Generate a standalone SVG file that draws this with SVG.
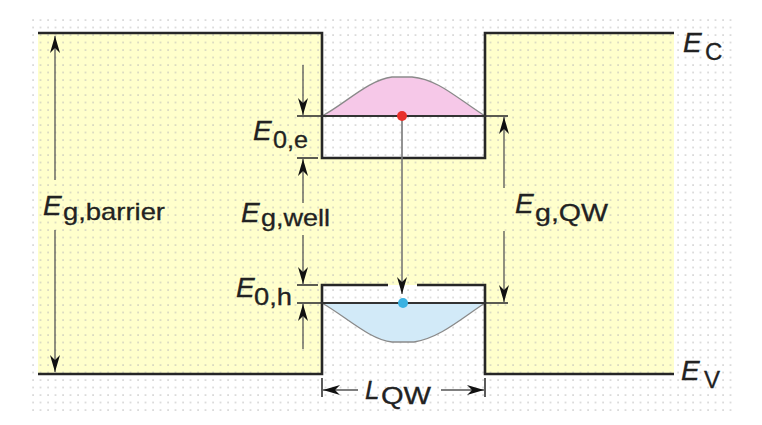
<svg xmlns="http://www.w3.org/2000/svg" width="762" height="425" viewBox="0 0 762 425">
  <style>
    .band { fill: none; stroke: #262626; stroke-width: 2.6; stroke-linejoin: miter; }
    .lvl { fill: none; stroke: #333; stroke-width: 2; }
    .tick { fill: none; stroke: #333; stroke-width: 1.6; }
    .arr { fill: none; stroke: #555; stroke-width: 1.3; marker-end: url(#ah); }
    .tr { fill: none; stroke: #777; stroke-width: 1.6; marker-end: url(#ah); }
    .E { font-family: "Liberation Sans", Arial, sans-serif; font-style: italic; font-size: 28px; fill: #222; stroke: #222; stroke-width: 0.3; }
    .sub { font-family: "Liberation Sans", Arial, sans-serif; font-size: 24px; fill: #222; stroke: #222; stroke-width: 0.3; }
  </style>
  <defs>
    <pattern id="dots" x="32" y="19" width="7.5" height="7.5" patternUnits="userSpaceOnUse">
      <rect x="0.4" y="0.4" width="1.3" height="1.3" fill="#b9b9b9"/>
    </pattern>
    <marker id="ah" viewBox="-18 -6 19 12" refX="0" refY="0" markerWidth="19" markerHeight="12" markerUnits="userSpaceOnUse" orient="auto">
      <path d="M0,0 L-17,-5 L-12,0 L-17,5 Z" fill="#111"/>
    </marker>
  </defs>

  <rect width="762" height="425" fill="#ffffff"/>

  <g id="barriers">
    <polygon points="38,33 322,33 322,158 485,158 485,33 674,33 674,374 485,374 485,285 322,285 322,374 38,374" fill="#ffffcc"/>
  </g>

  <g id="grid">
    <rect x="32" y="19" width="703" height="394" fill="url(#dots)"/>
  </g>

  <g id="wavefunctions">
    <path id="electron-wave" d="M322,116 C345,104 368,80 392,77 L412,77 C438,79 458,99 485,116 Z" fill="#f6c8e8" stroke="#8a8a8a" stroke-width="1.3"/>
    <path id="hole-wave" d="M322,303 C345,316 370,340 392,342 L414,342 C440,338 462,318 485,303 Z" fill="#d2eaf8" stroke="#8a8a8a" stroke-width="1.3"/>
  </g>

  <g id="bands">
    <polyline id="conduction-band" class="band" points="38,33 322,33 322,158 485,158 485,33 674,33"/>
    <polyline id="valence-band-left" class="band" points="38,374 322,374 322,285 388,285"/>
    <polyline id="valence-band-right" class="band" points="417,285 485,285 485,374 674,374"/>
  </g>

  <g id="levels">
    <line class="lvl" x1="322" y1="116" x2="485" y2="116"/>
    <line class="lvl" x1="322" y1="303" x2="485" y2="303"/>
    <line class="tick" x1="297" y1="116" x2="322" y2="116"/>
    <line class="tick" x1="297" y1="158" x2="318" y2="158"/>
    <line class="tick" x1="297" y1="285" x2="318" y2="285"/>
    <line class="tick" x1="297" y1="303" x2="322" y2="303"/>
    <line class="tick" x1="485" y1="116" x2="508" y2="116"/>
    <line class="tick" x1="485" y1="303" x2="508" y2="303"/>
    <line class="tick" x1="322" y1="378" x2="322" y2="397"/>
    <line class="tick" x1="485" y1="378" x2="485" y2="397"/>
  </g>

  <g id="connectors">
    <line class="tr" x1="402" y1="120" x2="402" y2="294"/>
    <line class="arr" x1="55" y1="180" x2="55" y2="36"/>
    <line class="arr" x1="55" y1="230" x2="55" y2="372"/>
    <line class="arr" x1="303" y1="65" x2="303" y2="115"/>
    <line class="arr" x1="303" y1="203" x2="303" y2="159"/>
    <line class="arr" x1="303" y1="235" x2="303" y2="284"/>
    <line class="arr" x1="303" y1="349" x2="303" y2="304"/>
    <line class="arr" x1="504" y1="188" x2="504" y2="117"/>
    <line class="arr" x1="504" y1="231" x2="504" y2="302"/>
    <line class="arr" x1="358" y1="390" x2="323" y2="390"/>
    <line class="arr" x1="441" y1="390" x2="484" y2="390"/>
  </g>

  <g id="carriers">
    <circle id="electron" cx="402" cy="116" r="5" fill="#e8302a"/>
    <circle id="hole" cx="403" cy="303" r="5" fill="#3ab2e2"/>
  </g>

  <g id="labels">
    <g id="label-Ec"><text class="E" x="683" y="52">E</text><text class="sub" x="705" y="60">C</text></g>
    <g id="label-Ev"><text class="E" x="681" y="380">E</text><text class="sub" x="704" y="388">V</text></g>
    <g id="label-Egbarrier"><text class="E" x="43" y="215">E</text><text class="sub" x="63" y="220" textLength="102" lengthAdjust="spacingAndGlyphs">g,barrier</text></g>
    <g id="label-Egwell"><text class="E" x="241" y="222">E</text><text class="sub" x="261" y="226" textLength="69" lengthAdjust="spacingAndGlyphs">g,well</text></g>
    <g id="label-EgQW"><text class="E" x="515" y="213">E</text><text class="sub" x="535" y="221" textLength="73" lengthAdjust="spacingAndGlyphs">g,QW</text></g>
    <g id="label-E0e"><text class="E" x="253" y="140">E</text><text class="sub" x="273" y="148" textLength="35" lengthAdjust="spacingAndGlyphs">0,e</text></g>
    <g id="label-E0h"><text class="E" x="236" y="297">E</text><text class="sub" x="254" y="305" textLength="38" lengthAdjust="spacingAndGlyphs">0,h</text></g>
    <g id="label-LQW"><text class="E" x="365" y="399" style="font-size:26px">L</text><text class="sub" x="381" y="404" textLength="50" lengthAdjust="spacingAndGlyphs">QW</text></g>
  </g>
</svg>
